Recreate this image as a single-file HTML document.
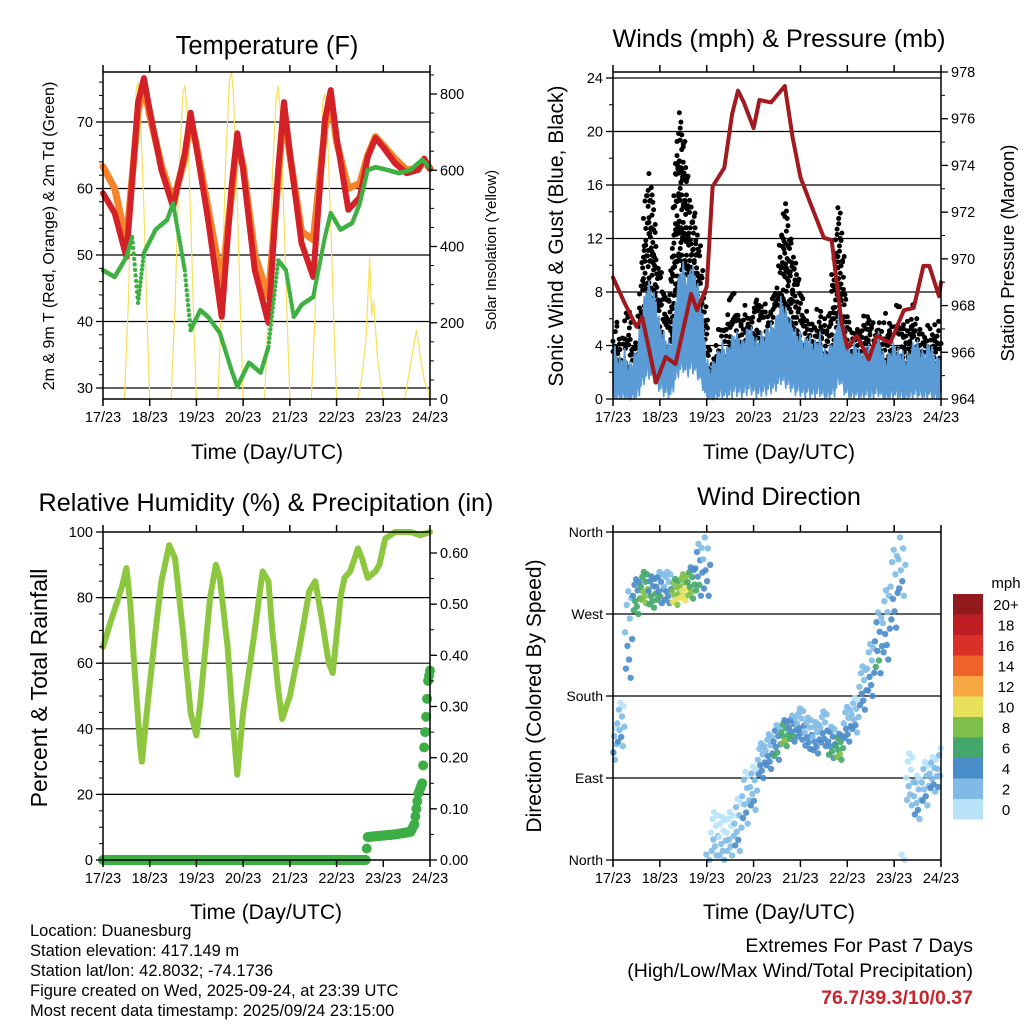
<!DOCTYPE html>
<html><head><meta charset="utf-8"><style>
body{margin:0;background:#fff}
svg text{font-family:"Liberation Sans",Arial,sans-serif;fill:#000}
</style></head><body>
<svg id="s" width="1024" height="1024" viewBox="0 0 1024 1024" xmlns="http://www.w3.org/2000/svg"></svg>
<script>
// ---------- data ----------
const dayLabels=["17/23","18/23","19/23","20/23","21/23","22/23","23/23","24/23"];
const tempHours=[0,6,12,18,21,24,30,36,42,45,48,54,61,66,69,72,78,85,90,93,96,102,108,114,117,120,126,132,136,140,144,150,156,162,165,168];
const temp2m=[59.3,56.3,49.7,72.9,76.6,71.8,62.8,57.2,65.3,71.4,66.2,55.3,40.7,60.2,68.3,62.8,47.7,39.8,62.8,73,65.3,51.8,46.7,70.3,74.8,67.7,56.8,58.7,64.7,67.6,66.2,63.8,62.3,62.8,64.5,63];
const temp9m=[63.3,60,52,71.5,75.5,71,63.5,58,64.5,70.5,66.5,57,45.8,59,67,63.5,50,43.7,61.5,72,65,53.5,52.3,69,73.5,67,60,60.8,65,67.8,66.5,64.5,62.8,63,64.2,63];
const tdHours=[0,6,12,15,18,21,27,33,36,42,45,50,54,60,66,69,75,81,85,90,94,98,102,108,114,117,122,128,132,136,140,146,152,158,164,168];
const dew2m=[47.7,46.7,49.7,52.7,42.8,50.3,53.8,55.3,57.8,47.7,38.7,41.7,40.7,38.3,32.7,30.2,33.8,32.3,36.2,49.2,47.7,40.7,42.5,43.7,52.7,56.3,53.8,54.8,57.8,62.8,63.2,62.8,62.3,62.8,64.3,63.2];
const solarHours=[11,13,15,17,18,19,21,23,24, 35,37,39,41,42,43,45,47,48, 59,61,63,65,66,67,69,71,72, 83,85,87,89,90,91,93,95,96, 107,109,111,113,114,115,117,119,120, 131,133,135,137,138,139,141,143,144, 155,157,159,161,162,163,165,167,168];
const solarVals=[0,250,600,810,830,780,500,150,0, 0,240,590,800,822,770,480,140,0, 0,260,620,840,858,800,520,160,0, 0,240,580,790,820,760,470,150,0, 0,230,570,780,800,750,460,140,0, 0,60,150,370,220,260,110,30,0, 0,60,120,180,150,110,50,20,0];
const pressHours=[0,6,12,15,22,27,32,40,43,48,51,57,61,64,67,72,75,81,88,92,96,101,108,112,117,120,125,131,135,142,149,154,159,162,167,168];
const pressure=[969.2,968.1,967.1,967.5,964.7,965.8,965.5,968.5,967.8,968.8,973.1,973.9,976.2,977.2,976.7,975.6,976.8,976.7,977.4,975.2,973.5,972.4,970.9,970.8,967.3,966.2,966.7,965.7,966.7,966.4,967.8,967.9,969.7,969.7,968.4,969];
const windMean=[2.5,1.8,1.5,2,1.2,1.5,2, 3.5,5,6,5.5,5,3.5, 3,2.5,2.5, 5,6.5,7,6,7,6.5,5.5, 4,1.5, 1,1.5,2,2.5,2,2.5, 3,3,2.5,3,3.5,3,2.5,3,3,3.5,3.5,4, 5,4.5,4,3.5, 3,3,2.5,3,2.5,2.5,3,2,2, 2.5,3,5,3.5, 2.5,2,2.5,2,2,2.5,2,2.5,3,2,1.5,2,2.5,2,2,1.5,2,2.5,2.5,2,2,2.5,2,1.5,2];
const gustHigh=[5,6,4,5,7,4,4, 9,13,17,16,12,10, 8,7,11, 17,22,20,17,14,14,12, 9,6, 3,3,5,5,6,7, 8,6,6,7,6,7,8,8,7,6,8,9, 12,15,13,11, 10,8,7,6,6,6,7,6,5, 9,12,15,10, 6,5,6,5,6,6,7,5,6,5,6,6,5,7,6,5,6,7,6,5,5,6,5,6,6];
const rhHours=[0,3.6,8,10,12,14,16,19,20,23,27,30,34,37,41,45,48,50,55,58,60,64,67,69,72,78,82,85,87,90,92,96,101,106,109,112,116,118,122,124,127,131,133,136,140,142,145,150,158,163,168];
const rh=[65,72,80,84,89,78,60,35,30,48,70,85,96,92,70,45,38,48,80,90,86,65,40,26,45,70,88,85,70,52,43,50,65,82,85,75,60,57,80,86,88,95,92,86,88,90,98,100,100,99,100];
const precipHours=[0,135,136,150,158,160,161,162,163,164,165,166,167,168];
const precipTotal=[0,0,0.045,0.05,0.055,0.07,0.1,0.13,0.14,0.15,0.22,0.28,0.35,0.37];
const dirHours=[0,4,8,12,16,20,24,28,32,36,40,44,48,52,56,60,64,68,72,76,80,84,88,92,96,100,104,108,112,116,120,124,128,132,136,140,144,148,152,156,160,164,168];
const dirDeg=[130,150,250,290,300,295,300,300,295,300,305,320,330,30,25,30,40,70,80,110,120,130,140,145,150,140,135,145,130,125,150,160,190,210,240,260,300,330,90,70,85,95,100];
const dirSpread=[20,25,50,20,18,18,18,18,15,15,18,30,40,25,25,25,30,30,25,20,20,20,15,15,18,18,18,20,18,15,20,20,25,30,35,40,45,40,30,25,25,20,25];
const dirSpeed=[2,2,3,5,7,5,4,3,8,9,6,4,3,1,1,1,2,2,2,3,3,4,6,4,3,3,3,3,4,6,3,2,3,3,4,3,3,2,1,2,2,2,2];
const cbLabels=["20+","18","16","14","12","10","8","6","4","2","0"];
const cbColors=["#921a1d","#bf1e24","#da3027","#ef6329","#f8a743","#e6e05a","#7dbf48","#44a66a","#4a8bc9","#7fbbe6","#b8e2f8"];
// ---------- helpers ----------
const S=document.getElementById('s');const NS='http://www.w3.org/2000/svg';
function mk(tag,at,parent){const e=document.createElementNS(NS,tag);for(const k in at)e.setAttribute(k,at[k]);(parent||S).appendChild(e);return e;}
function txt(x,y,s,size,anchor,rot,parent){const e=mk('text',{x:x,y:y,'font-size':size,'text-anchor':anchor||'middle'},parent);if(rot)e.setAttribute('transform','rotate('+rot+' '+x+' '+y+')');e.textContent=s;return e;}
function lin(d0,d1,r0,r1){return v=>r0+(v-d0)/(d1-d0)*(r1-r0);}
function interp(xs,ys,t){if(t<=xs[0])return ys[0];for(let i=1;i<xs.length;i++){if(t<=xs[i]){const f=(t-xs[i-1])/(xs[i]-xs[i-1]);return ys[i-1]+f*(ys[i]-ys[i-1]);}}return ys[ys.length-1];}
function frame(name){const g=mk('g',{});return g;}
function xAxis(g,x0,x1,y0,y1){const X=lin(0,168,x0,x1);
  for(let d=0;d<=7;d++){const x=X(d*24);mk('line',{x1:x,x2:x,y1:y1,y2:y1+7,stroke:'#000','stroke-width':1.5},g);mk('line',{x1:x,x2:x,y1:y0,y2:y0-7,stroke:'#000','stroke-width':1.5},g);
    const t=txt(x,y1+23,dayLabels[d],14.5,'middle',0,g);}
  return X;}
function border(g,x0,y0,x1,y1){mk('rect',{x:x0,y:y0,width:x1-x0,height:y1-y0,fill:'none',stroke:'#000','stroke-width':1.5},g);}
function poly(g,pts,color,w,name){const p=mk('polyline',{points:pts.map(p=>p[0].toFixed(1)+','+p[1].toFixed(1)).join(' '),fill:'none',stroke:color,'stroke-width':w,'stroke-linejoin':'round','stroke-linecap':'round'},g);return p;}
function hgrid(g,x0,x1,y){mk('line',{x1:x0,x2:x1,y1:y,y2:y,stroke:'#000','stroke-width':1.2},g);}
function yTicks(g,x,vals,Y,fmt,side,minorStep,lo,hi){
  vals.forEach(v=>{const y=Y(v);mk('line',{x1:x,x2:x+(side<0?-7:7),y1:y,y2:y,stroke:'#000','stroke-width':1.3},g);
    const t=txt(x+(side<0?-10:10),y+5,fmt(v),14.5,side<0?'end':'start',0,g);});
  if(minorStep){for(let v=lo;v<=hi+1e-9;v+=minorStep){const y=Y(v);mk('line',{x1:x,x2:x+(side<0?-4:4),y1:y,y2:y,stroke:'#000','stroke-width':1},g);}}}
function label(x,y,s,size,rot,name){const t=txt(x,y,s,size,'middle',rot);return t;}

// ---------- Panel 1: Temperature ----------
(function(){const x0=103,x1=430,y0=72,y1=399;const g=frame('temperature-panel');
  const X=lin(0,168,x0,x1);const Y=lin(30,70,388,122);const YS=lin(0,800,399,94);
  [30,40,50,60,70].forEach(v=>hgrid(g,x0,x1,Y(v)));
  poly(g,solarHours.map((h,i)=>[X(h),YS(solarVals[i])]),'#f8df5a',1.2,'solar-insolation-line');
  poly(g,tempHours.map((h,i)=>[X(h),Y(temp9m[i])]),'#f5832a',7,'temp-9m-line');
  poly(g,tempHours.map((h,i)=>[X(h),Y(temp2m[i])]),'#d42027',6,'temp-2m-line');
  const dg=mk('g',{},g);
  for(let t=0;t<=168;t+=0.25){mk('circle',{cx:X(t),cy:Y(interp(tdHours,dew2m,t)),r:2.2,fill:'#3fb043'},dg);}
  border(g,x0,y0,x1,y1);xAxis(g,x0,x1,y0,y1);
  yTicks(g,x0,[30,40,50,60,70],Y,v=>v,-1,2,30,76);
  yTicks(g,x1,[0,200,400,600,800],YS,v=>v,1,50,0,850);
  label(267,54,'Temperature (F)',25.5,0,'temperature-title');
  label(267,459,'Time (Day/UTC)',21,0,'x-axis-title');
  label(54,236,'2m & 9m T (Red, Orange) & 2m Td (Green)',16,-90,'y-axis-title-left');
  label(496,250,'Solar Insolation (Yellow)',15,-90,'y-axis-title-right');
})();

// ---------- Panel 2: Winds ----------
(function(){const x0=613,x1=941,y0=72,y1=399;const g=frame('winds-panel');
  const X=lin(0,168,x0,x1);const Y=lin(0,24,399,78);const YP=lin(964,978,399,72);
  [4,8,12,16,20,24].forEach(v=>hgrid(g,x0,x1,Y(v)));
  const hrs=windMean.map((_,i)=>i*2);
  const gg=mk('g',{},g);
  let n=0;
  for(let t=0;t<=168;t+=0.8){const hi=interp(hrs,gustHigh,t);const lo=interp(hrs,windMean,t)+0.8;
    for(let v=lo;v<=hi;v+=0.9){n++;const jx=((n*7)%5-2)*0.8,jy=((n*3)%5-2)*0.25;
      mk('circle',{cx:X(t)+jx,cy:Math.max(Y(v+jy),y0+2),r:2.5,fill:'#000'},gg);}}
  const up=[],dn=[];for(let t=0;t<=168;t+=0.5){const m=interp(hrs,windMean,t);const j=((Math.round(t*2)*37)%5-2)*0.4;up.push([X(t),Y(m*1.3+0.4+j)]);dn.push([X(t),Y(Math.max(0,m*0.45-0.4-j))]);}
  const pb=mk('polygon',{points:up.concat(dn.reverse()).map(p=>p[0].toFixed(1)+','+p[1].toFixed(1)).join(' '),fill:'#5a9bd5',stroke:'#5a9bd5','stroke-width':1.5},g);
  
  poly(g,pressHours.map((h,i)=>[X(h),YP(pressure[i])]),'#a01a1f',4,'pressure-line');
  border(g,x0,y0,x1,y1);xAxis(g,x0,x1,y0,y1);
  yTicks(g,x0,[0,4,8,12,16,20,24],Y,v=>v,-1,2,0,24);
  yTicks(g,x1,[964,966,968,970,972,974,976,978],YP,v=>v,1,1,964,978);
  label(779,47,'Winds (mph) & Pressure (mb)',25.2,0,'winds-title');
  label(779,459,'Time (Day/UTC)',21,0,'x-axis-title');
  label(563,236,'Sonic Wind & Gust (Blue, Black)',21,-90,'y-axis-title-left');
  label(1014,253,'Station Pressure (Maroon)',18.5,-90,'y-axis-title-right');
})();

// ---------- Panel 3: RH & Precip ----------
(function(){const x0=103,x1=430,y0=532,y1=860;const g=frame('humidity-panel');
  const X=lin(0,168,x0,x1);const Y=lin(0,100,860,532);const YR=lin(0,0.6,860,553);
  [20,40,60,80].forEach(v=>hgrid(g,x0,x1,Y(v)));
  poly(g,rhHours.map((h,i)=>[X(h),Y(rh[i])]),'#8dc63f',6,'relative-humidity-line');
  const pg=mk('g',{},g);
  for(let t=0;t<=168;t+=0.5){mk('circle',{cx:X(t),cy:YR(interp(precipHours,precipTotal,t)),r:5,fill:'#3cae45'},pg);}
  border(g,x0,y0,x1,y1);xAxis(g,x0,x1,y0,y1);
  yTicks(g,x0,[0,20,40,60,80,100],Y,v=>v,-1,5,0,100);
  yTicks(g,x1,[0,0.1,0.2,0.3,0.4,0.5,0.6],YR,v=>v.toFixed(2),1,0.05,0,0.6);
  label(266,511,'Relative Humidity (%) & Precipitation (in)',25.2,0,'humidity-title');
  label(266,919,'Time (Day/UTC)',21,0,'x-axis-title');
  label(47,688,'Percent & Total Rainfall',23,-90,'y-axis-title-left');
})();

// ---------- Panel 4: Wind Direction ----------
(function(){const x0=613,x1=941,y0=532,y1=860;const g=frame('wind-direction-panel');
  const X=lin(0,168,x0,x1);const Y=lin(0,360,860,532);
  [90,180,270].forEach(v=>hgrid(g,x0,x1,Y(v)));
  const jit=[0,-0.8,0.6,-0.3,0.9,-0.6,0.3,-1,0.75,-0.15];
  const sg=mk('g',{},g);
  for(let i=0;i<dirHours.length;i++){
    for(let k=0;k<10;k++){
      const t=dirHours[i]+(k-4.5)*0.4;if(t<0||t>168)continue;
      const d=dirDeg[i]+jit[k]*dirSpread[i];const dd=((d%360)+360)%360;
      const sp=Math.max(0,dirSpeed[i]+jit[(k+3)%10]*1.5);
      const ci=10-Math.min(10,Math.round(sp/2));
      mk('circle',{cx:X(t),cy:Y(dd),r:3.2,fill:cbColors[ci],'fill-opacity':0.9},sg);
    }}
  border(g,x0,y0,x1,y1);xAxis(g,x0,x1,y0,y1);
  const dl=["North","East","South","West","North"];
  [0,90,180,270,360].forEach((v,i)=>{const y=Y(v);mk('line',{x1:x0,x2:x0-7,y1:y,y2:y,stroke:'#000','stroke-width':1.3},g);const t=txt(x0-10,y+5,dl[i],14,'end',0,g);});
  label(779,505,'Wind Direction',25.2,0,'wind-direction-title');
  label(779,919,'Time (Day/UTC)',21,0,'x-axis-title');
  label(541,696,'Direction (Colored By Speed)',21,-90,'y-axis-title-left');
  const cb=mk('g',{});
  txt(1006,588,'mph',15,'middle',0,cb);
  cbColors.forEach((c,i)=>{mk('rect',{x:953,y:594+i*20.5,width:30,height:20.5,fill:c},cb);txt(1006,594+i*20.5+16,cbLabels[i],15,'middle',0,cb);});
})();

// ---------- Footer text ----------
(function(){const lines=["Location: Duanesburg","Station elevation: 417.149 m","Station lat/lon: 42.8032; -74.1736","Figure created on Wed, 2025-09-24, at 23:39 UTC","Most recent data timestamp: 2025/09/24 23:15:00"];
  const g=mk('g',{});
  lines.forEach((s,i)=>txt(30,936+i*20,s,16.5,'start',0,g));
  const e=mk('g',{});
  txt(973,952,'Extremes For Past 7 Days',19.5,'end',0,e);
  txt(973,977,'(High/Low/Max Wind/Total Precipitation)',19.5,'end',0,e);
  const r=txt(973,1004,'76.7/39.3/10/0.37',19.5,'end',0,e);r.setAttribute('style','fill:#c8252c;font-weight:bold');
})();
</script>
</body></html>
